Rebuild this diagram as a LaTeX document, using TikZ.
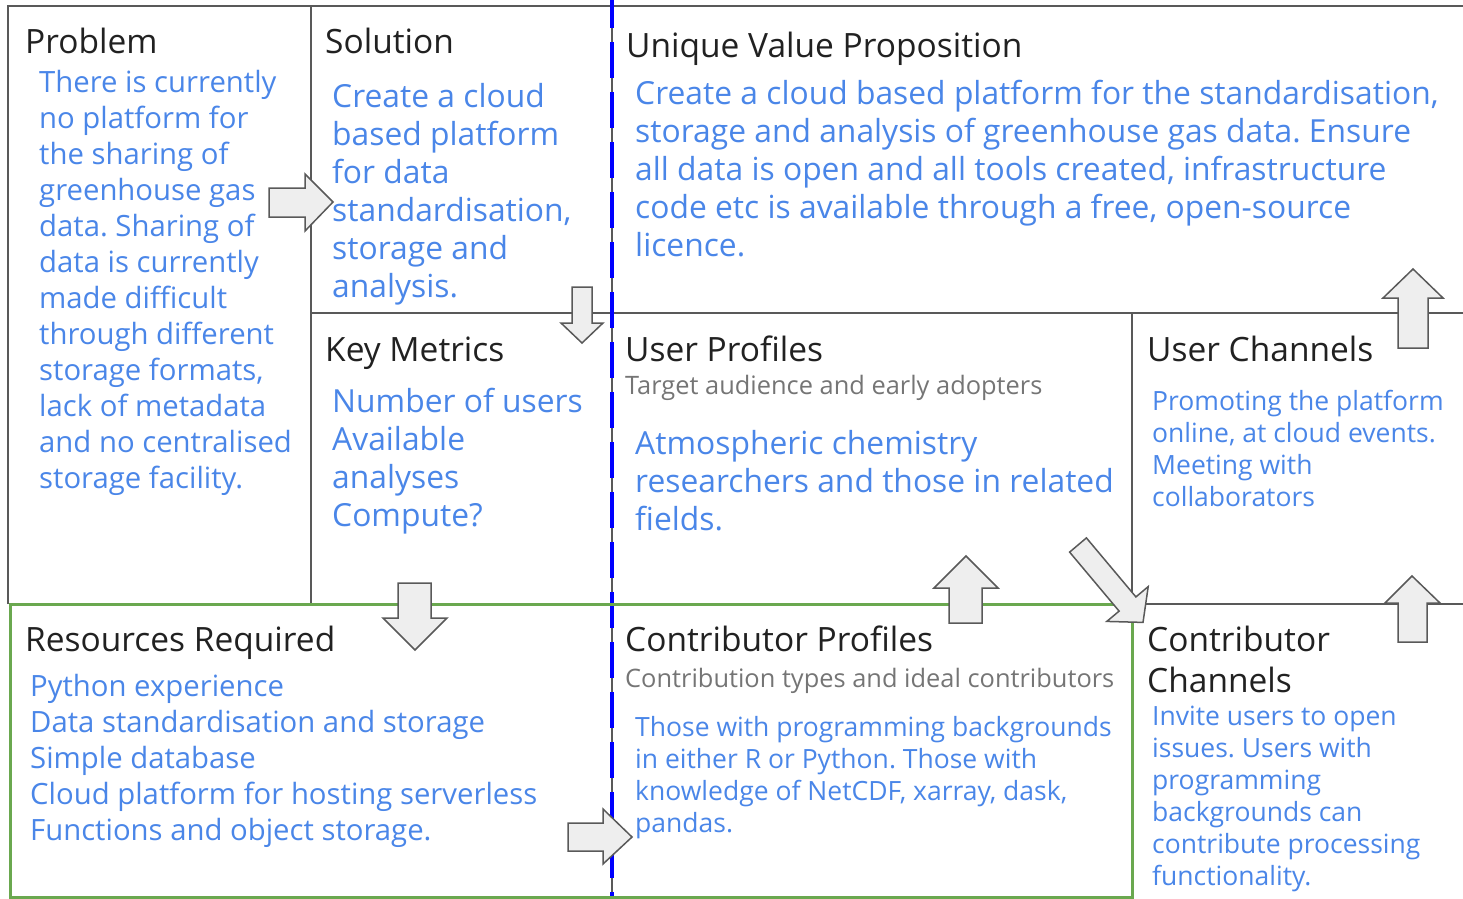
\documentclass[tikz,border=0pt]{standalone}
\usepackage{fontspec}
\setmainfont{Open Sans}
\frenchspacing
\definecolor{txtblue}{HTML}{4A86E8}
\definecolor{headgray}{HTML}{212121}
\definecolor{subgray}{HTML}{757575}
\definecolor{linegray}{HTML}{595959}
\definecolor{boxgreen}{HTML}{6AA84F}
\definecolor{arrowfill}{HTML}{EEEEEE}
\tikzset{
  gridline/.style={draw=linegray, line width=2pt},
  heading/.style={anchor=base west, inner sep=0pt, align=left, text=headgray, font=\fontsize{33.5}{41}\selectfont},
  bodybig/.style={anchor=base west, inner sep=0pt, align=left, text=txtblue, font=\fontsize{31.8}{38}\selectfont},
  bodymid/.style={anchor=base west, inner sep=0pt, align=left, text=txtblue, font=\fontsize{29.3}{36}\selectfont},
  bodysmall/.style={anchor=base west, inner sep=0pt, align=left, text=txtblue, font=\fontsize{26.5}{32}\selectfont},
  subline/.style={anchor=base west, inner sep=0pt, text=subgray, font=\fontsize{25.4}{30}\selectfont},
  blockarrow/.style={draw=linegray, fill=arrowfill, line width=1.5pt, line join=miter}
}
\begin{document}
\begin{tikzpicture}[x=1pt,y=-1pt]
  \useasboundingbox (0,0) rectangle (1463,898);
  % frame of the canvas
  \draw [gridline] (8,604) -- (8,6) -- (1463,6);
  \draw [gridline] (311,6) -- (311,604);
  \draw [gridline] (311,313) -- (1463,313);
  \draw [gridline] (1132,313) -- (1132,604) -- (1463,604);
  \draw [gridline] (612,0) -- (612,898);
  \draw [blue, line width=4pt, dash pattern=on 36pt off 14pt] (612,-8) -- (612,898);
  \draw [boxgreen, line width=3pt] (10,604) rectangle (1132,897);

  % headings (base = last line)
  \node [heading] (probhead) at (25,53) {Problem};
  \node [heading] (solhead) at (325,53) {Solution};
  \node [heading] (uvphead) at (626,57) {Unique Value Proposition};
  \node [heading] (metrhead) at (325,361) {Key Metrics};
  \node [heading] (userhead) at (625,361) {User Profiles};
  \node [heading] (uchanhead) at (1147,361) {User Channels};
  \node [heading] (reshead) at (25,651) {Resources Required};
  \node [heading] (conthead) at (625,651) {Contributor Profiles};
  \node [heading] (cchanhead) at (1147,692) {Contributor\\Channels};
  \node [subline] (usersub) at (625,394) {Target audience and early adopters};
  \node [subline] (contsub) at (625,687) {Contribution types and ideal contributors};

  % contents
  \node [bodymid] (probtxt) at (39,488) {There is currently\\no platform for\\the sharing of\\greenhouse gas\\data. Sharing of\\data is currently\\made difficult\\through different\\storage formats,\\lack of metadata\\and no centralised\\storage facility.};
  \node [bodybig] (soltxt) at (332,297) {Create a cloud\\based platform\\for data\\standardisation,\\storage and\\analysis.};
  \node [bodybig] (uvptxt) at (635,256) {Create a cloud based platform for the standardisation,\\storage and analysis of greenhouse gas data. Ensure\\all data is open and all tools created, infrastructure\\code etc is available through a free, open-source\\licence.};
  \node [bodybig] (metrtxt) at (332,526) {Number of users\\Available\\analyses\\Compute?};
  \node [bodybig] (usertxt) at (635,530) {Atmospheric chemistry\\researchers and those in related\\fields.};
  \node [bodysmall] (uchantxt) at (1152,506) {Promoting the platform\\online, at cloud events.\\Meeting with\\collaborators};
  \node [bodymid] (restxt) at (30,840) {Python experience\\Data standardisation and storage\\Simple database\\Cloud platform for hosting serverless\\Functions and object storage.};
  \node [bodysmall] (conttxt) at (635,832) {Those with programming backgrounds\\in either R or Python. Those with\\knowledge of NetCDF, xarray, dask,\\pandas.};
  \node [bodysmall] (cchantxt) at (1152,885) {Invite users to open\\issues. Users with\\programming\\backgrounds can\\contribute processing\\functionality.};

  % block arrows
  \draw [blockarrow] (269,188) -- (305,188) -- (305,174) -- (333,202) -- (305,231) -- (305,217) -- (269,217) -- cycle;
  \draw [blockarrow] (572,287) -- (592,287) -- (592,323) -- (603,323) -- (582,343) -- (561,323) -- (572,323) -- cycle;
  \draw [blockarrow] (1398,348) -- (1398,298) -- (1383,298) -- (1413,269) -- (1443,298) -- (1428,298) -- (1428,348) -- cycle;
  \draw [blockarrow] (398,583) -- (431,583) -- (431,618) -- (447,618) -- (415,650) -- (383,618) -- (398,618) -- cycle;
  \draw [blockarrow] (949,623) -- (949,588) -- (934,588) -- (966,556) -- (998,588) -- (982,588) -- (982,623) -- cycle;
  \draw [blockarrow] (1398,642) -- (1398,603) -- (1385,603) -- (1412,576) -- (1440,603) -- (1427,603) -- (1427,642) -- cycle;
  \draw [blockarrow] (568,823) -- (603,823) -- (603,809) -- (632,837) -- (603,864) -- (603,851) -- (568,851) -- cycle;
  \draw [blockarrow] (1069.6,552.1) -- (1119.1,611.1) -- (1106.8,621.4) -- (1143,622.4) -- (1148.2,586.6) -- (1135.9,596.9) -- (1086.4,537.9) -- cycle;
\end{tikzpicture}
\end{document}
